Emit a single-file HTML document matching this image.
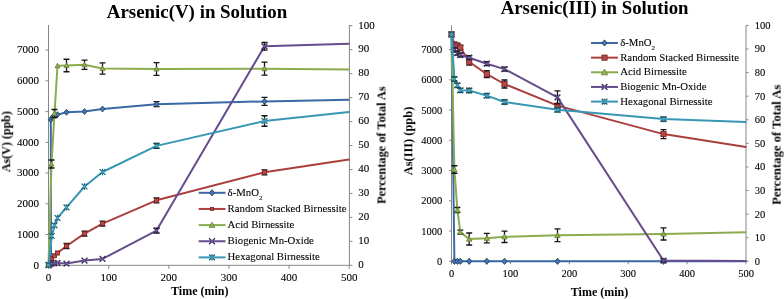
<!DOCTYPE html>
<html><head><meta charset="utf-8"><style>
html,body{margin:0;padding:0;background:#fff;}
svg{display:block;font-family:"Liberation Serif", serif;}
text{fill:#000;will-change:transform;}
text.n{stroke:#000;stroke-width:0.1px;}
</style></head><body>
<svg width="784" height="299" viewBox="0 0 784 299">
<rect width="784" height="299" fill="#fff"/>
<path d="M48.5,25.0 L48.5,265.3 L349.4,265.3 M349.4,25.0 L349.4,265.3" stroke="#868686" stroke-width="1" fill="none"/>
<path d="M45.5,265.30 L48.5,265.30" stroke="#868686" stroke-width="1"/>
<text class="n" x="39" y="268.50" font-size="11" font-weight="normal" text-anchor="end" >0</text>
<path d="M45.5,234.56 L48.5,234.56" stroke="#868686" stroke-width="1"/>
<text class="n" x="39" y="237.76" font-size="11" font-weight="normal" text-anchor="end" >1000</text>
<path d="M45.5,203.81 L48.5,203.81" stroke="#868686" stroke-width="1"/>
<text class="n" x="39" y="207.01" font-size="11" font-weight="normal" text-anchor="end" >2000</text>
<path d="M45.5,173.07 L48.5,173.07" stroke="#868686" stroke-width="1"/>
<text class="n" x="39" y="176.27" font-size="11" font-weight="normal" text-anchor="end" >3000</text>
<path d="M45.5,142.33 L48.5,142.33" stroke="#868686" stroke-width="1"/>
<text class="n" x="39" y="145.53" font-size="11" font-weight="normal" text-anchor="end" >4000</text>
<path d="M45.5,111.59 L48.5,111.59" stroke="#868686" stroke-width="1"/>
<text class="n" x="39" y="114.79" font-size="11" font-weight="normal" text-anchor="end" >5000</text>
<path d="M45.5,80.84 L48.5,80.84" stroke="#868686" stroke-width="1"/>
<text class="n" x="39" y="84.04" font-size="11" font-weight="normal" text-anchor="end" >6000</text>
<path d="M45.5,50.10 L48.5,50.10" stroke="#868686" stroke-width="1"/>
<text class="n" x="39" y="53.30" font-size="11" font-weight="normal" text-anchor="end" >7000</text>
<path d="M349.4,265.30 L352.4,265.30" stroke="#868686" stroke-width="1"/>
<text class="n" x="358.3" y="268.10" font-size="11" font-weight="normal" text-anchor="start" >0</text>
<path d="M349.4,241.34 L352.4,241.34" stroke="#868686" stroke-width="1"/>
<text class="n" x="358.3" y="244.14" font-size="11" font-weight="normal" text-anchor="start" >10</text>
<path d="M349.4,217.38 L352.4,217.38" stroke="#868686" stroke-width="1"/>
<text class="n" x="358.3" y="220.18" font-size="11" font-weight="normal" text-anchor="start" >20</text>
<path d="M349.4,193.42 L352.4,193.42" stroke="#868686" stroke-width="1"/>
<text class="n" x="358.3" y="196.22" font-size="11" font-weight="normal" text-anchor="start" >30</text>
<path d="M349.4,169.46 L352.4,169.46" stroke="#868686" stroke-width="1"/>
<text class="n" x="358.3" y="172.26" font-size="11" font-weight="normal" text-anchor="start" >40</text>
<path d="M349.4,145.50 L352.4,145.50" stroke="#868686" stroke-width="1"/>
<text class="n" x="358.3" y="148.30" font-size="11" font-weight="normal" text-anchor="start" >50</text>
<path d="M349.4,121.54 L352.4,121.54" stroke="#868686" stroke-width="1"/>
<text class="n" x="358.3" y="124.34" font-size="11" font-weight="normal" text-anchor="start" >60</text>
<path d="M349.4,97.58 L352.4,97.58" stroke="#868686" stroke-width="1"/>
<text class="n" x="358.3" y="100.38" font-size="11" font-weight="normal" text-anchor="start" >70</text>
<path d="M349.4,73.62 L352.4,73.62" stroke="#868686" stroke-width="1"/>
<text class="n" x="358.3" y="76.42" font-size="11" font-weight="normal" text-anchor="start" >80</text>
<path d="M349.4,49.66 L352.4,49.66" stroke="#868686" stroke-width="1"/>
<text class="n" x="358.3" y="52.46" font-size="11" font-weight="normal" text-anchor="start" >90</text>
<path d="M349.4,25.70 L352.4,25.70" stroke="#868686" stroke-width="1"/>
<text class="n" x="358.3" y="28.50" font-size="11" font-weight="normal" text-anchor="start" >100</text>
<path d="M48.50,265.3 L48.50,268.8" stroke="#868686" stroke-width="1"/>
<text class="n" x="48.50" y="280.6" font-size="11" font-weight="normal" text-anchor="middle" >0</text>
<path d="M108.65,265.3 L108.65,268.8" stroke="#868686" stroke-width="1"/>
<text class="n" x="108.65" y="280.6" font-size="11" font-weight="normal" text-anchor="middle" >100</text>
<path d="M168.80,265.3 L168.80,268.8" stroke="#868686" stroke-width="1"/>
<text class="n" x="168.80" y="280.6" font-size="11" font-weight="normal" text-anchor="middle" >200</text>
<path d="M228.95,265.3 L228.95,268.8" stroke="#868686" stroke-width="1"/>
<text class="n" x="228.95" y="280.6" font-size="11" font-weight="normal" text-anchor="middle" >300</text>
<path d="M289.10,265.3 L289.10,268.8" stroke="#868686" stroke-width="1"/>
<text class="n" x="289.10" y="280.6" font-size="11" font-weight="normal" text-anchor="middle" >400</text>
<path d="M349.25,265.3 L349.25,268.8" stroke="#868686" stroke-width="1"/>
<text class="n" x="349.25" y="280.6" font-size="11" font-weight="normal" text-anchor="middle" >500</text>
<text x="197.05" y="17.6" font-size="18.9" font-weight="bold" text-anchor="middle" >Arsenic(V) in Solution</text>
<text x="199.8" y="295" font-size="12" font-weight="bold" text-anchor="middle" >Time (min)</text>
<text transform="translate(10.2,141.6) rotate(-90)" font-size="12" font-weight="bold" text-anchor="middle">As(V) (ppb)</text>
<text transform="translate(385.5,145.2) rotate(-90)" font-size="12.35" font-weight="bold" text-anchor="middle">Percentage of Total As</text>
<defs><clipPath id="cl"><rect x="40" y="20" width="309.5" height="250"/></clipPath><clipPath id="cr"><rect x="440" y="20" width="306.5" height="250"/></clipPath></defs>
<g clip-path="url(#cl)">
<polyline points="51.00,265.30 50.80,119.70 52.30,117.30 54.50,116.00 57.50,114.60 66.50,112.30 84.50,111.50 102.50,109.00 156.50,104.20 264.50,101.40 349.00,99.70" fill="none" stroke="#3a69a5" stroke-width="2.0" stroke-linejoin="round" stroke-linecap="round"/>

<path d="M51.00,262.36 L53.47,265.30 L51.00,268.25 L48.53,265.30 Z" fill="#4676b3" stroke="#243f66" stroke-width="0.9"/>

<path d="M50.80,116.76 L53.27,119.70 L50.80,122.64 L48.33,119.70 Z" fill="#4676b3" stroke="#243f66" stroke-width="0.9"/>

<path d="M52.30,114.36 L54.77,117.30 L52.30,120.24 L49.83,117.30 Z" fill="#4676b3" stroke="#243f66" stroke-width="0.9"/>

<path d="M54.50,113.06 L56.97,116.00 L54.50,118.94 L52.03,116.00 Z" fill="#4676b3" stroke="#243f66" stroke-width="0.9"/>

<path d="M57.50,111.66 L59.97,114.60 L57.50,117.54 L55.03,114.60 Z" fill="#4676b3" stroke="#243f66" stroke-width="0.9"/>

<path d="M66.50,109.36 L68.97,112.30 L66.50,115.24 L64.03,112.30 Z" fill="#4676b3" stroke="#243f66" stroke-width="0.9"/>

<path d="M84.50,108.56 L86.97,111.50 L84.50,114.44 L82.03,111.50 Z" fill="#4676b3" stroke="#243f66" stroke-width="0.9"/>

<path d="M102.50,106.06 L104.97,109.00 L102.50,111.94 L100.03,109.00 Z" fill="#4676b3" stroke="#243f66" stroke-width="0.9"/>
<path d="M156.50,101.70 L156.50,106.70 M153.50,101.70 L159.50,101.70 M153.50,106.70 L159.50,106.70" stroke="#151515" stroke-width="1.3" fill="none"/>
<path d="M156.50,101.26 L158.97,104.20 L156.50,107.14 L154.03,104.20 Z" fill="#4676b3" stroke="#243f66" stroke-width="0.9"/>
<path d="M264.50,97.40 L264.50,105.40 M261.50,97.40 L267.50,97.40 M261.50,105.40 L267.50,105.40" stroke="#151515" stroke-width="1.3" fill="none"/>
<path d="M264.50,98.46 L266.97,101.40 L264.50,104.34 L262.03,101.40 Z" fill="#4676b3" stroke="#243f66" stroke-width="0.9"/>
<polyline points="48.50,265.00 51.50,258.60 54.50,255.80 57.50,253.00 66.50,246.00 84.50,233.70 102.50,223.60 156.50,200.30 264.50,172.30 349.00,159.50" fill="none" stroke="#ab3f3d" stroke-width="2.0" stroke-linejoin="round" stroke-linecap="round"/>

<rect x="46.42" y="262.92" width="4.16" height="4.16" fill="#b84745" stroke="#6e2220" stroke-width="0.8"/>

<rect x="49.42" y="256.52" width="4.16" height="4.16" fill="#b84745" stroke="#6e2220" stroke-width="0.8"/>

<rect x="52.42" y="253.72" width="4.16" height="4.16" fill="#b84745" stroke="#6e2220" stroke-width="0.8"/>

<rect x="55.42" y="250.92" width="4.16" height="4.16" fill="#b84745" stroke="#6e2220" stroke-width="0.8"/>
<path d="M66.50,243.50 L66.50,248.50 M63.50,243.50 L69.50,243.50 M63.50,248.50 L69.50,248.50" stroke="#151515" stroke-width="1.3" fill="none"/>
<rect x="64.42" y="243.92" width="4.16" height="4.16" fill="#b84745" stroke="#6e2220" stroke-width="0.8"/>
<path d="M84.50,231.20 L84.50,236.20 M81.50,231.20 L87.50,231.20 M81.50,236.20 L87.50,236.20" stroke="#151515" stroke-width="1.3" fill="none"/>
<rect x="82.42" y="231.62" width="4.16" height="4.16" fill="#b84745" stroke="#6e2220" stroke-width="0.8"/>
<path d="M102.50,221.10 L102.50,226.10 M99.50,221.10 L105.50,221.10 M99.50,226.10 L105.50,226.10" stroke="#151515" stroke-width="1.3" fill="none"/>
<rect x="100.42" y="221.52" width="4.16" height="4.16" fill="#b84745" stroke="#6e2220" stroke-width="0.8"/>
<path d="M156.50,197.80 L156.50,202.80 M153.50,197.80 L159.50,197.80 M153.50,202.80 L159.50,202.80" stroke="#151515" stroke-width="1.3" fill="none"/>
<rect x="154.42" y="198.22" width="4.16" height="4.16" fill="#b84745" stroke="#6e2220" stroke-width="0.8"/>
<path d="M264.50,169.80 L264.50,174.80 M261.50,169.80 L267.50,169.80 M261.50,174.80 L267.50,174.80" stroke="#151515" stroke-width="1.3" fill="none"/>
<rect x="262.42" y="170.22" width="4.16" height="4.16" fill="#b84745" stroke="#6e2220" stroke-width="0.8"/>
<polyline points="48.50,265.00 51.50,164.00 54.50,113.50 57.50,65.80 66.50,65.50 84.50,64.80 102.50,68.50 156.50,69.00 264.50,68.70 349.00,69.40" fill="none" stroke="#8aac4e" stroke-width="2.0" stroke-linejoin="round" stroke-linecap="round"/>

<path d="M48.50,262.44 L51.06,267.05 L45.94,267.05 Z" fill="#92b352" stroke="#5a752c" stroke-width="0.7"/>
<path d="M51.50,160.00 L51.50,168.00 M48.50,160.00 L54.50,160.00 M48.50,168.00 L54.50,168.00" stroke="#151515" stroke-width="1.3" fill="none"/>
<path d="M51.50,161.44 L54.06,166.05 L48.94,166.05 Z" fill="#92b352" stroke="#5a752c" stroke-width="0.7"/>
<path d="M54.50,109.50 L54.50,117.50 M51.50,109.50 L57.50,109.50 M51.50,117.50 L57.50,117.50" stroke="#151515" stroke-width="1.3" fill="none"/>
<path d="M54.50,110.94 L57.06,115.55 L51.94,115.55 Z" fill="#92b352" stroke="#5a752c" stroke-width="0.7"/>

<path d="M57.50,63.24 L60.06,67.85 L54.94,67.85 Z" fill="#92b352" stroke="#5a752c" stroke-width="0.7"/>
<path d="M66.50,59.25 L66.50,71.75 M63.50,59.25 L69.50,59.25 M63.50,71.75 L69.50,71.75" stroke="#151515" stroke-width="1.3" fill="none"/>
<path d="M66.50,62.94 L69.06,67.55 L63.94,67.55 Z" fill="#92b352" stroke="#5a752c" stroke-width="0.7"/>
<path d="M84.50,60.20 L84.50,69.40 M81.50,60.20 L87.50,60.20 M81.50,69.40 L87.50,69.40" stroke="#151515" stroke-width="1.3" fill="none"/>
<path d="M84.50,62.24 L87.06,66.85 L81.94,66.85 Z" fill="#92b352" stroke="#5a752c" stroke-width="0.7"/>
<path d="M102.50,62.90 L102.50,74.10 M99.50,62.90 L105.50,62.90 M99.50,74.10 L105.50,74.10" stroke="#151515" stroke-width="1.3" fill="none"/>
<path d="M102.50,65.94 L105.06,70.55 L99.94,70.55 Z" fill="#92b352" stroke="#5a752c" stroke-width="0.7"/>
<path d="M156.50,62.70 L156.50,75.30 M153.50,62.70 L159.50,62.70 M153.50,75.30 L159.50,75.30" stroke="#151515" stroke-width="1.3" fill="none"/>
<path d="M156.50,66.44 L159.06,71.05 L153.94,71.05 Z" fill="#92b352" stroke="#5a752c" stroke-width="0.7"/>
<path d="M264.50,62.20 L264.50,75.20 M261.50,62.20 L267.50,62.20 M261.50,75.20 L267.50,75.20" stroke="#151515" stroke-width="1.3" fill="none"/>
<path d="M264.50,66.14 L267.06,70.75 L261.94,70.75 Z" fill="#92b352" stroke="#5a752c" stroke-width="0.7"/>
<polyline points="48.50,265.00 51.50,263.50 54.50,263.30 57.50,263.00 66.50,263.60 84.50,260.60 102.50,258.90 156.50,230.60 264.50,46.30 349.00,43.70" fill="none" stroke="#654d8e" stroke-width="2.0" stroke-linejoin="round" stroke-linecap="round"/>

<path d="M45.60,262.10 L51.40,267.90 M51.40,262.10 L45.60,267.90" stroke="#3e2d5a" stroke-width="1.35"/><circle cx="48.50" cy="265.00" r="1.30" fill="#7258a0"/>

<path d="M48.60,260.60 L54.40,266.40 M54.40,260.60 L48.60,266.40" stroke="#3e2d5a" stroke-width="1.35"/><circle cx="51.50" cy="263.50" r="1.30" fill="#7258a0"/>

<path d="M51.60,260.40 L57.40,266.20 M57.40,260.40 L51.60,266.20" stroke="#3e2d5a" stroke-width="1.35"/><circle cx="54.50" cy="263.30" r="1.30" fill="#7258a0"/>

<path d="M54.60,260.10 L60.40,265.90 M60.40,260.10 L54.60,265.90" stroke="#3e2d5a" stroke-width="1.35"/><circle cx="57.50" cy="263.00" r="1.30" fill="#7258a0"/>

<path d="M63.60,260.70 L69.40,266.50 M69.40,260.70 L63.60,266.50" stroke="#3e2d5a" stroke-width="1.35"/><circle cx="66.50" cy="263.60" r="1.30" fill="#7258a0"/>

<path d="M81.60,257.70 L87.40,263.50 M87.40,257.70 L81.60,263.50" stroke="#3e2d5a" stroke-width="1.35"/><circle cx="84.50" cy="260.60" r="1.30" fill="#7258a0"/>

<path d="M99.60,256.00 L105.40,261.80 M105.40,256.00 L99.60,261.80" stroke="#3e2d5a" stroke-width="1.35"/><circle cx="102.50" cy="258.90" r="1.30" fill="#7258a0"/>
<path d="M156.50,228.10 L156.50,233.10 M153.50,228.10 L159.50,228.10 M153.50,233.10 L159.50,233.10" stroke="#151515" stroke-width="1.3" fill="none"/>
<path d="M153.60,227.70 L159.40,233.50 M159.40,227.70 L153.60,233.50" stroke="#3e2d5a" stroke-width="1.35"/><circle cx="156.50" cy="230.60" r="1.30" fill="#7258a0"/>
<path d="M264.50,42.50 L264.50,50.10 M261.50,42.50 L267.50,42.50 M261.50,50.10 L267.50,50.10" stroke="#151515" stroke-width="1.3" fill="none"/>
<path d="M261.60,43.40 L267.40,49.20 M267.40,43.40 L261.60,49.20" stroke="#3e2d5a" stroke-width="1.35"/><circle cx="264.50" cy="46.30" r="1.30" fill="#7258a0"/>
<polyline points="48.50,265.00 51.80,236.00 54.50,225.40 57.50,218.00 66.50,207.40 84.50,186.50 102.50,172.00 156.50,145.90 264.50,121.00 349.00,112.00" fill="none" stroke="#3797b4" stroke-width="2.0" stroke-linejoin="round" stroke-linecap="round"/>

<path d="M45.60,262.10 L51.40,267.90 M51.40,262.10 L45.60,267.90 M48.50,261.81 L48.50,268.19" stroke="#1f6477" stroke-width="1.30"/><circle cx="48.50" cy="265.00" r="1.60" fill="#42a3c0"/>

<path d="M48.90,233.10 L54.70,238.90 M54.70,233.10 L48.90,238.90 M51.80,232.81 L51.80,239.19" stroke="#1f6477" stroke-width="1.30"/><circle cx="51.80" cy="236.00" r="1.60" fill="#42a3c0"/>

<path d="M51.60,222.50 L57.40,228.30 M57.40,222.50 L51.60,228.30 M54.50,222.21 L54.50,228.59" stroke="#1f6477" stroke-width="1.30"/><circle cx="54.50" cy="225.40" r="1.60" fill="#42a3c0"/>

<path d="M54.60,215.10 L60.40,220.90 M60.40,215.10 L54.60,220.90 M57.50,214.81 L57.50,221.19" stroke="#1f6477" stroke-width="1.30"/><circle cx="57.50" cy="218.00" r="1.60" fill="#42a3c0"/>

<path d="M63.60,204.50 L69.40,210.30 M69.40,204.50 L63.60,210.30 M66.50,204.21 L66.50,210.59" stroke="#1f6477" stroke-width="1.30"/><circle cx="66.50" cy="207.40" r="1.60" fill="#42a3c0"/>

<path d="M81.60,183.60 L87.40,189.40 M87.40,183.60 L81.60,189.40 M84.50,183.31 L84.50,189.69" stroke="#1f6477" stroke-width="1.30"/><circle cx="84.50" cy="186.50" r="1.60" fill="#42a3c0"/>

<path d="M99.60,169.10 L105.40,174.90 M105.40,169.10 L99.60,174.90 M102.50,168.81 L102.50,175.19" stroke="#1f6477" stroke-width="1.30"/><circle cx="102.50" cy="172.00" r="1.60" fill="#42a3c0"/>
<path d="M156.50,143.40 L156.50,148.40 M153.50,143.40 L159.50,143.40 M153.50,148.40 L159.50,148.40" stroke="#151515" stroke-width="1.3" fill="none"/>
<path d="M153.60,143.00 L159.40,148.80 M159.40,143.00 L153.60,148.80 M156.50,142.71 L156.50,149.09" stroke="#1f6477" stroke-width="1.30"/><circle cx="156.50" cy="145.90" r="1.60" fill="#42a3c0"/>
<path d="M264.50,115.75 L264.50,126.25 M261.50,115.75 L267.50,115.75 M261.50,126.25 L267.50,126.25" stroke="#151515" stroke-width="1.3" fill="none"/>
<path d="M261.60,118.10 L267.40,123.90 M267.40,118.10 L261.60,123.90 M264.50,117.81 L264.50,124.19" stroke="#1f6477" stroke-width="1.30"/><circle cx="264.50" cy="121.00" r="1.60" fill="#42a3c0"/>
</g>
<path d="M198.7,192.80 L225.5,192.80" stroke="#3a69a5" stroke-width="2.0"/>
<path d="M212.00,189.70 L214.60,192.80 L212.00,195.90 L209.40,192.80 Z" fill="#4676b3" stroke="#243f66" stroke-width="0.9"/>
<text class="n" x="227.6" y="195.80" font-size="10.75" font-weight="normal" text-anchor="start" >δ-MnO<tspan dy="3.8" font-size="7">2</tspan></text>
<path d="M198.7,208.95 L225.5,208.95" stroke="#ab3f3d" stroke-width="2.0"/>
<rect x="210.44" y="207.39" width="3.12" height="3.12" fill="#b84745" stroke="#6e2220" stroke-width="0.8"/>
<text class="n" x="227.6" y="211.95" font-size="10.75" font-weight="normal" text-anchor="start" >Random Stacked Birnessite</text>
<path d="M198.7,225.10 L225.5,225.10" stroke="#8aac4e" stroke-width="2.0"/>
<path d="M212.00,222.22 L214.88,227.40 L209.12,227.40 Z" fill="#92b352" stroke="#5a752c" stroke-width="0.7"/>
<text class="n" x="227.6" y="228.10" font-size="10.75" font-weight="normal" text-anchor="start" >Acid Birnessite</text>
<path d="M198.7,241.25 L225.5,241.25" stroke="#654d8e" stroke-width="2.0"/>
<path d="M209.10,238.35 L214.90,244.15 M214.90,238.35 L209.10,244.15" stroke="#3e2d5a" stroke-width="1.35"/><circle cx="212.00" cy="241.25" r="1.30" fill="#7258a0"/>
<text class="n" x="227.6" y="244.25" font-size="10.75" font-weight="normal" text-anchor="start" >Biogenic Mn-Oxide</text>
<path d="M198.7,257.40 L225.5,257.40" stroke="#3797b4" stroke-width="2.0"/>
<path d="M209.10,254.50 L214.90,260.30 M214.90,254.50 L209.10,260.30 M212.00,254.21 L212.00,260.59" stroke="#1f6477" stroke-width="1.30"/><circle cx="212.00" cy="257.40" r="1.60" fill="#42a3c0"/>
<text class="n" x="227.6" y="260.40" font-size="10.75" font-weight="normal" text-anchor="start" >Hexagonal Birnessite</text>
<path d="M451.5,25.4 L451.5,261.3 L746.0,261.3 M746.0,25.4 L746.0,261.3" stroke="#868686" stroke-width="1" fill="none"/>
<path d="M449.0,261.30 L451.5,261.30" stroke="#868686" stroke-width="1"/>
<text class="n" x="442.2" y="264.90" font-size="10.5" font-weight="normal" text-anchor="end" >0</text>
<path d="M449.0,231.05 L451.5,231.05" stroke="#868686" stroke-width="1"/>
<text class="n" x="442.2" y="234.65" font-size="10.5" font-weight="normal" text-anchor="end" >1000</text>
<path d="M449.0,200.80 L451.5,200.80" stroke="#868686" stroke-width="1"/>
<text class="n" x="442.2" y="204.40" font-size="10.5" font-weight="normal" text-anchor="end" >2000</text>
<path d="M449.0,170.55 L451.5,170.55" stroke="#868686" stroke-width="1"/>
<text class="n" x="442.2" y="174.15" font-size="10.5" font-weight="normal" text-anchor="end" >3000</text>
<path d="M449.0,140.30 L451.5,140.30" stroke="#868686" stroke-width="1"/>
<text class="n" x="442.2" y="143.90" font-size="10.5" font-weight="normal" text-anchor="end" >4000</text>
<path d="M449.0,110.05 L451.5,110.05" stroke="#868686" stroke-width="1"/>
<text class="n" x="442.2" y="113.65" font-size="10.5" font-weight="normal" text-anchor="end" >5000</text>
<path d="M449.0,79.80 L451.5,79.80" stroke="#868686" stroke-width="1"/>
<text class="n" x="442.2" y="83.40" font-size="10.5" font-weight="normal" text-anchor="end" >6000</text>
<path d="M449.0,49.55 L451.5,49.55" stroke="#868686" stroke-width="1"/>
<text class="n" x="442.2" y="53.15" font-size="10.5" font-weight="normal" text-anchor="end" >7000</text>
<path d="M746.0,261.30 L748.5,261.30" stroke="#868686" stroke-width="1"/>
<text class="n" x="754.8" y="264.70" font-size="10.5" font-weight="normal" text-anchor="start" >0</text>
<path d="M746.0,237.71 L748.5,237.71" stroke="#868686" stroke-width="1"/>
<text class="n" x="754.8" y="241.11" font-size="10.5" font-weight="normal" text-anchor="start" >10</text>
<path d="M746.0,214.12 L748.5,214.12" stroke="#868686" stroke-width="1"/>
<text class="n" x="754.8" y="217.52" font-size="10.5" font-weight="normal" text-anchor="start" >20</text>
<path d="M746.0,190.53 L748.5,190.53" stroke="#868686" stroke-width="1"/>
<text class="n" x="754.8" y="193.93" font-size="10.5" font-weight="normal" text-anchor="start" >30</text>
<path d="M746.0,166.94 L748.5,166.94" stroke="#868686" stroke-width="1"/>
<text class="n" x="754.8" y="170.34" font-size="10.5" font-weight="normal" text-anchor="start" >40</text>
<path d="M746.0,143.35 L748.5,143.35" stroke="#868686" stroke-width="1"/>
<text class="n" x="754.8" y="146.75" font-size="10.5" font-weight="normal" text-anchor="start" >50</text>
<path d="M746.0,119.76 L748.5,119.76" stroke="#868686" stroke-width="1"/>
<text class="n" x="754.8" y="123.16" font-size="10.5" font-weight="normal" text-anchor="start" >60</text>
<path d="M746.0,96.17 L748.5,96.17" stroke="#868686" stroke-width="1"/>
<text class="n" x="754.8" y="99.57" font-size="10.5" font-weight="normal" text-anchor="start" >70</text>
<path d="M746.0,72.58 L748.5,72.58" stroke="#868686" stroke-width="1"/>
<text class="n" x="754.8" y="75.98" font-size="10.5" font-weight="normal" text-anchor="start" >80</text>
<path d="M746.0,48.99 L748.5,48.99" stroke="#868686" stroke-width="1"/>
<text class="n" x="754.8" y="52.39" font-size="10.5" font-weight="normal" text-anchor="start" >90</text>
<path d="M746.0,25.40 L748.5,25.40" stroke="#868686" stroke-width="1"/>
<text class="n" x="754.8" y="28.80" font-size="10.5" font-weight="normal" text-anchor="start" >100</text>
<path d="M451.50,261.3 L451.50,264.3" stroke="#868686" stroke-width="1"/>
<text class="n" x="451.50" y="277.1" font-size="10.5" font-weight="normal" text-anchor="middle" >0</text>
<path d="M510.40,261.3 L510.40,264.3" stroke="#868686" stroke-width="1"/>
<text class="n" x="510.40" y="277.1" font-size="10.5" font-weight="normal" text-anchor="middle" >100</text>
<path d="M569.30,261.3 L569.30,264.3" stroke="#868686" stroke-width="1"/>
<text class="n" x="569.30" y="277.1" font-size="10.5" font-weight="normal" text-anchor="middle" >200</text>
<path d="M628.20,261.3 L628.20,264.3" stroke="#868686" stroke-width="1"/>
<text class="n" x="628.20" y="277.1" font-size="10.5" font-weight="normal" text-anchor="middle" >300</text>
<path d="M687.10,261.3 L687.10,264.3" stroke="#868686" stroke-width="1"/>
<text class="n" x="687.10" y="277.1" font-size="10.5" font-weight="normal" text-anchor="middle" >400</text>
<path d="M746.00,261.3 L746.00,264.3" stroke="#868686" stroke-width="1"/>
<text class="n" x="746.00" y="277.1" font-size="10.5" font-weight="normal" text-anchor="middle" >500</text>
<text x="594.6" y="13.8" font-size="18.8" font-weight="bold" text-anchor="middle" >Arsenic(III) in Solution</text>
<text x="599.5" y="295.5" font-size="12" font-weight="bold" text-anchor="middle" >Time (min)</text>
<text transform="translate(412.3,141) rotate(-90)" font-size="12.4" font-weight="bold" text-anchor="middle">As(III) (ppb)</text>
<text transform="translate(780.6,144.8) rotate(-90)" font-size="12.65" font-weight="bold" text-anchor="middle">Percentage of Total As</text>
<g clip-path="url(#cr)">
<polyline points="451.50,34.40 454.40,261.30 457.40,261.30 460.30,261.30 469.20,261.30 486.80,261.30 504.50,261.30 557.50,261.30 663.50,261.30 746.00,261.30" fill="none" stroke="#3a69a5" stroke-width="2.0" stroke-linejoin="round" stroke-linecap="round"/>

<path d="M451.50,31.30 L454.10,34.40 L451.50,37.50 L448.90,34.40 Z" fill="#4676b3" stroke="#243f66" stroke-width="0.9"/>

<path d="M454.40,258.20 L457.00,261.30 L454.40,264.40 L451.80,261.30 Z" fill="#4676b3" stroke="#243f66" stroke-width="0.9"/>

<path d="M457.40,258.20 L460.00,261.30 L457.40,264.40 L454.80,261.30 Z" fill="#4676b3" stroke="#243f66" stroke-width="0.9"/>

<path d="M460.30,258.20 L462.90,261.30 L460.30,264.40 L457.70,261.30 Z" fill="#4676b3" stroke="#243f66" stroke-width="0.9"/>

<path d="M469.20,258.20 L471.80,261.30 L469.20,264.40 L466.60,261.30 Z" fill="#4676b3" stroke="#243f66" stroke-width="0.9"/>

<path d="M486.80,258.20 L489.40,261.30 L486.80,264.40 L484.20,261.30 Z" fill="#4676b3" stroke="#243f66" stroke-width="0.9"/>

<path d="M504.50,258.20 L507.10,261.30 L504.50,264.40 L501.90,261.30 Z" fill="#4676b3" stroke="#243f66" stroke-width="0.9"/>

<path d="M557.50,258.20 L560.10,261.30 L557.50,264.40 L554.90,261.30 Z" fill="#4676b3" stroke="#243f66" stroke-width="0.9"/>

<path d="M663.50,258.20 L666.10,261.30 L663.50,264.40 L660.90,261.30 Z" fill="#4676b3" stroke="#243f66" stroke-width="0.9"/>
<polyline points="451.50,34.40 454.40,44.50 457.40,45.50 460.30,47.50 469.20,61.70 486.80,74.20 504.50,84.00 557.50,105.60 663.50,134.10 746.00,147.00" fill="none" stroke="#ab3f3d" stroke-width="2.0" stroke-linejoin="round" stroke-linecap="round"/>

<rect x="448.90" y="31.80" width="5.20" height="5.20" fill="#b84745" stroke="#6e2220" stroke-width="0.8"/>
<path d="M454.40,42.50 L454.40,46.50 M451.40,42.50 L457.40,42.50 M451.40,46.50 L457.40,46.50" stroke="#151515" stroke-width="1.3" fill="none"/>
<rect x="451.80" y="41.90" width="5.20" height="5.20" fill="#b84745" stroke="#6e2220" stroke-width="0.8"/>
<path d="M457.40,43.50 L457.40,47.50 M454.40,43.50 L460.40,43.50 M454.40,47.50 L460.40,47.50" stroke="#151515" stroke-width="1.3" fill="none"/>
<rect x="454.80" y="42.90" width="5.20" height="5.20" fill="#b84745" stroke="#6e2220" stroke-width="0.8"/>
<path d="M460.30,45.50 L460.30,49.50 M457.30,45.50 L463.30,45.50 M457.30,49.50 L463.30,49.50" stroke="#151515" stroke-width="1.3" fill="none"/>
<rect x="457.70" y="44.90" width="5.20" height="5.20" fill="#b84745" stroke="#6e2220" stroke-width="0.8"/>
<path d="M469.20,58.20 L469.20,65.20 M466.20,58.20 L472.20,58.20 M466.20,65.20 L472.20,65.20" stroke="#151515" stroke-width="1.3" fill="none"/>
<rect x="466.60" y="59.10" width="5.20" height="5.20" fill="#b84745" stroke="#6e2220" stroke-width="0.8"/>
<path d="M486.80,70.70 L486.80,77.70 M483.80,70.70 L489.80,70.70 M483.80,77.70 L489.80,77.70" stroke="#151515" stroke-width="1.3" fill="none"/>
<rect x="484.20" y="71.60" width="5.20" height="5.20" fill="#b84745" stroke="#6e2220" stroke-width="0.8"/>
<path d="M504.50,80.00 L504.50,88.00 M501.50,80.00 L507.50,80.00 M501.50,88.00 L507.50,88.00" stroke="#151515" stroke-width="1.3" fill="none"/>
<rect x="501.90" y="81.40" width="5.20" height="5.20" fill="#b84745" stroke="#6e2220" stroke-width="0.8"/>
<path d="M557.50,103.60 L557.50,107.60 M554.50,103.60 L560.50,103.60 M554.50,107.60 L560.50,107.60" stroke="#151515" stroke-width="1.3" fill="none"/>
<rect x="554.90" y="103.00" width="5.20" height="5.20" fill="#b84745" stroke="#6e2220" stroke-width="0.8"/>
<path d="M663.50,129.60 L663.50,138.60 M660.50,129.60 L666.50,129.60 M660.50,138.60 L666.50,138.60" stroke="#151515" stroke-width="1.3" fill="none"/>
<rect x="660.90" y="131.50" width="5.20" height="5.20" fill="#b84745" stroke="#6e2220" stroke-width="0.8"/>
<polyline points="451.50,34.40 454.40,169.50 457.40,210.00 460.30,232.10 469.20,239.00 486.80,238.20 504.50,236.80 557.50,235.30 663.50,233.90 746.00,232.20" fill="none" stroke="#8aac4e" stroke-width="2.0" stroke-linejoin="round" stroke-linecap="round"/>

<path d="M451.50,31.68 L454.22,36.58 L448.78,36.58 Z" fill="#92b352" stroke="#5a752c" stroke-width="0.7"/>
<path d="M454.40,165.75 L454.40,173.25 M451.40,165.75 L457.40,165.75 M451.40,173.25 L457.40,173.25" stroke="#151515" stroke-width="1.3" fill="none"/>
<path d="M454.40,166.78 L457.12,171.68 L451.68,171.68 Z" fill="#92b352" stroke="#5a752c" stroke-width="0.7"/>
<path d="M457.40,207.50 L457.40,212.50 M454.40,207.50 L460.40,207.50 M454.40,212.50 L460.40,212.50" stroke="#151515" stroke-width="1.3" fill="none"/>
<path d="M457.40,207.28 L460.12,212.18 L454.68,212.18 Z" fill="#92b352" stroke="#5a752c" stroke-width="0.7"/>
<path d="M460.30,230.10 L460.30,234.10 M457.30,230.10 L463.30,230.10 M457.30,234.10 L463.30,234.10" stroke="#151515" stroke-width="1.3" fill="none"/>
<path d="M460.30,229.38 L463.02,234.28 L457.58,234.28 Z" fill="#92b352" stroke="#5a752c" stroke-width="0.7"/>
<path d="M469.20,233.00 L469.20,245.00 M466.20,233.00 L472.20,233.00 M466.20,245.00 L472.20,245.00" stroke="#151515" stroke-width="1.3" fill="none"/>
<path d="M469.20,236.28 L471.92,241.18 L466.48,241.18 Z" fill="#92b352" stroke="#5a752c" stroke-width="0.7"/>
<path d="M486.80,233.45 L486.80,242.95 M483.80,233.45 L489.80,233.45 M483.80,242.95 L489.80,242.95" stroke="#151515" stroke-width="1.3" fill="none"/>
<path d="M486.80,235.48 L489.52,240.38 L484.08,240.38 Z" fill="#92b352" stroke="#5a752c" stroke-width="0.7"/>
<path d="M504.50,231.10 L504.50,242.50 M501.50,231.10 L507.50,231.10 M501.50,242.50 L507.50,242.50" stroke="#151515" stroke-width="1.3" fill="none"/>
<path d="M504.50,234.08 L507.22,238.98 L501.78,238.98 Z" fill="#92b352" stroke="#5a752c" stroke-width="0.7"/>
<path d="M557.50,228.90 L557.50,241.70 M554.50,228.90 L560.50,228.90 M554.50,241.70 L560.50,241.70" stroke="#151515" stroke-width="1.3" fill="none"/>
<path d="M557.50,232.58 L560.22,237.48 L554.78,237.48 Z" fill="#92b352" stroke="#5a752c" stroke-width="0.7"/>
<path d="M663.50,227.80 L663.50,240.00 M660.50,227.80 L666.50,227.80 M660.50,240.00 L666.50,240.00" stroke="#151515" stroke-width="1.3" fill="none"/>
<path d="M663.50,231.18 L666.22,236.08 L660.78,236.08 Z" fill="#92b352" stroke="#5a752c" stroke-width="0.7"/>
<polyline points="451.50,34.40 454.40,50.00 457.40,53.00 460.30,55.00 469.20,57.70 486.80,63.70 504.50,69.10 557.50,97.40 663.50,260.60 746.00,261.10" fill="none" stroke="#654d8e" stroke-width="2.0" stroke-linejoin="round" stroke-linecap="round"/>

<path d="M448.60,31.50 L454.40,37.30 M454.40,31.50 L448.60,37.30" stroke="#3e2d5a" stroke-width="1.35"/><circle cx="451.50" cy="34.40" r="1.30" fill="#7258a0"/>
<path d="M454.40,48.00 L454.40,52.00 M451.40,48.00 L457.40,48.00 M451.40,52.00 L457.40,52.00" stroke="#151515" stroke-width="1.3" fill="none"/>
<path d="M451.50,47.10 L457.30,52.90 M457.30,47.10 L451.50,52.90" stroke="#3e2d5a" stroke-width="1.35"/><circle cx="454.40" cy="50.00" r="1.30" fill="#7258a0"/>
<path d="M457.40,51.00 L457.40,55.00 M454.40,51.00 L460.40,51.00 M454.40,55.00 L460.40,55.00" stroke="#151515" stroke-width="1.3" fill="none"/>
<path d="M454.50,50.10 L460.30,55.90 M460.30,50.10 L454.50,55.90" stroke="#3e2d5a" stroke-width="1.35"/><circle cx="457.40" cy="53.00" r="1.30" fill="#7258a0"/>
<path d="M460.30,53.00 L460.30,57.00 M457.30,53.00 L463.30,53.00 M457.30,57.00 L463.30,57.00" stroke="#151515" stroke-width="1.3" fill="none"/>
<path d="M457.40,52.10 L463.20,57.90 M463.20,52.10 L457.40,57.90" stroke="#3e2d5a" stroke-width="1.35"/><circle cx="460.30" cy="55.00" r="1.30" fill="#7258a0"/>
<path d="M469.20,55.70 L469.20,59.70 M466.20,55.70 L472.20,55.70 M466.20,59.70 L472.20,59.70" stroke="#151515" stroke-width="1.3" fill="none"/>
<path d="M466.30,54.80 L472.10,60.60 M472.10,54.80 L466.30,60.60" stroke="#3e2d5a" stroke-width="1.35"/><circle cx="469.20" cy="57.70" r="1.30" fill="#7258a0"/>
<path d="M486.80,61.70 L486.80,65.70 M483.80,61.70 L489.80,61.70 M483.80,65.70 L489.80,65.70" stroke="#151515" stroke-width="1.3" fill="none"/>
<path d="M483.90,60.80 L489.70,66.60 M489.70,60.80 L483.90,66.60" stroke="#3e2d5a" stroke-width="1.35"/><circle cx="486.80" cy="63.70" r="1.30" fill="#7258a0"/>
<path d="M504.50,67.10 L504.50,71.10 M501.50,67.10 L507.50,67.10 M501.50,71.10 L507.50,71.10" stroke="#151515" stroke-width="1.3" fill="none"/>
<path d="M501.60,66.20 L507.40,72.00 M507.40,66.20 L501.60,72.00" stroke="#3e2d5a" stroke-width="1.35"/><circle cx="504.50" cy="69.10" r="1.30" fill="#7258a0"/>
<path d="M557.50,90.90 L557.50,103.90 M554.50,90.90 L560.50,90.90 M554.50,103.90 L560.50,103.90" stroke="#151515" stroke-width="1.3" fill="none"/>
<path d="M554.60,94.50 L560.40,100.30 M560.40,94.50 L554.60,100.30" stroke="#3e2d5a" stroke-width="1.35"/><circle cx="557.50" cy="97.40" r="1.30" fill="#7258a0"/>
<path d="M663.50,259.10 L663.50,262.10 M660.50,259.10 L666.50,259.10 M660.50,262.10 L666.50,262.10" stroke="#151515" stroke-width="1.3" fill="none"/>
<path d="M660.60,257.70 L666.40,263.50 M666.40,257.70 L660.60,263.50" stroke="#3e2d5a" stroke-width="1.35"/><circle cx="663.50" cy="260.60" r="1.30" fill="#7258a0"/>
<polyline points="451.50,34.40 454.40,79.00 457.40,85.40 460.30,90.30 469.20,90.50 486.80,95.60 504.50,102.00 557.50,109.80 663.50,119.10 746.00,122.00" fill="none" stroke="#3797b4" stroke-width="2.0" stroke-linejoin="round" stroke-linecap="round"/>

<path d="M448.60,31.50 L454.40,37.30 M454.40,31.50 L448.60,37.30 M451.50,31.21 L451.50,37.59" stroke="#1f6477" stroke-width="1.30"/><circle cx="451.50" cy="34.40" r="1.60" fill="#42a3c0"/>
<path d="M454.40,77.00 L454.40,81.00 M451.40,77.00 L457.40,77.00 M451.40,81.00 L457.40,81.00" stroke="#151515" stroke-width="1.3" fill="none"/>
<path d="M451.50,76.10 L457.30,81.90 M457.30,76.10 L451.50,81.90 M454.40,75.81 L454.40,82.19" stroke="#1f6477" stroke-width="1.30"/><circle cx="454.40" cy="79.00" r="1.60" fill="#42a3c0"/>
<path d="M457.40,83.40 L457.40,87.40 M454.40,83.40 L460.40,83.40 M454.40,87.40 L460.40,87.40" stroke="#151515" stroke-width="1.3" fill="none"/>
<path d="M454.50,82.50 L460.30,88.30 M460.30,82.50 L454.50,88.30 M457.40,82.21 L457.40,88.59" stroke="#1f6477" stroke-width="1.30"/><circle cx="457.40" cy="85.40" r="1.60" fill="#42a3c0"/>
<path d="M460.30,88.30 L460.30,92.30 M457.30,88.30 L463.30,88.30 M457.30,92.30 L463.30,92.30" stroke="#151515" stroke-width="1.3" fill="none"/>
<path d="M457.40,87.40 L463.20,93.20 M463.20,87.40 L457.40,93.20 M460.30,87.11 L460.30,93.49" stroke="#1f6477" stroke-width="1.30"/><circle cx="460.30" cy="90.30" r="1.60" fill="#42a3c0"/>
<path d="M469.20,88.50 L469.20,92.50 M466.20,88.50 L472.20,88.50 M466.20,92.50 L472.20,92.50" stroke="#151515" stroke-width="1.3" fill="none"/>
<path d="M466.30,87.60 L472.10,93.40 M472.10,87.60 L466.30,93.40 M469.20,87.31 L469.20,93.69" stroke="#1f6477" stroke-width="1.30"/><circle cx="469.20" cy="90.50" r="1.60" fill="#42a3c0"/>
<path d="M486.80,93.60 L486.80,97.60 M483.80,93.60 L489.80,93.60 M483.80,97.60 L489.80,97.60" stroke="#151515" stroke-width="1.3" fill="none"/>
<path d="M483.90,92.70 L489.70,98.50 M489.70,92.70 L483.90,98.50 M486.80,92.41 L486.80,98.79" stroke="#1f6477" stroke-width="1.30"/><circle cx="486.80" cy="95.60" r="1.60" fill="#42a3c0"/>
<path d="M504.50,100.00 L504.50,104.00 M501.50,100.00 L507.50,100.00 M501.50,104.00 L507.50,104.00" stroke="#151515" stroke-width="1.3" fill="none"/>
<path d="M501.60,99.10 L507.40,104.90 M507.40,99.10 L501.60,104.90 M504.50,98.81 L504.50,105.19" stroke="#1f6477" stroke-width="1.30"/><circle cx="504.50" cy="102.00" r="1.60" fill="#42a3c0"/>
<path d="M557.50,107.80 L557.50,111.80 M554.50,107.80 L560.50,107.80 M554.50,111.80 L560.50,111.80" stroke="#151515" stroke-width="1.3" fill="none"/>
<path d="M554.60,106.90 L560.40,112.70 M560.40,106.90 L554.60,112.70 M557.50,106.61 L557.50,112.99" stroke="#1f6477" stroke-width="1.30"/><circle cx="557.50" cy="109.80" r="1.60" fill="#42a3c0"/>
<path d="M663.50,117.10 L663.50,121.10 M660.50,117.10 L666.50,117.10 M660.50,121.10 L666.50,121.10" stroke="#151515" stroke-width="1.3" fill="none"/>
<path d="M660.60,116.20 L666.40,122.00 M666.40,116.20 L660.60,122.00 M663.50,115.91 L663.50,122.29" stroke="#1f6477" stroke-width="1.30"/><circle cx="663.50" cy="119.10" r="1.60" fill="#42a3c0"/>
</g>
<path d="M591,43.00 L618,43.00" stroke="#3a69a5" stroke-width="2.0"/>
<path d="M604.50,39.90 L607.10,43.00 L604.50,46.10 L601.90,43.00 Z" fill="#4676b3" stroke="#243f66" stroke-width="0.9"/>
<text class="n" x="620.2" y="46.00" font-size="10.75" font-weight="normal" text-anchor="start" >δ-MnO<tspan dy="3.8" font-size="7">2</tspan></text>
<path d="M591,57.65 L618,57.65" stroke="#ab3f3d" stroke-width="2.0"/>
<rect x="601.90" y="55.05" width="5.20" height="5.20" fill="#b84745" stroke="#6e2220" stroke-width="0.8"/>
<text class="n" x="620.2" y="60.65" font-size="10.75" font-weight="normal" text-anchor="start" >Random Stacked Birnessite</text>
<path d="M591,72.30 L618,72.30" stroke="#8aac4e" stroke-width="2.0"/>
<path d="M604.50,69.10 L607.70,74.86 L601.30,74.86 Z" fill="#92b352" stroke="#5a752c" stroke-width="0.7"/>
<text class="n" x="620.2" y="75.30" font-size="10.75" font-weight="normal" text-anchor="start" >Acid Birnessite</text>
<path d="M591,86.95 L618,86.95" stroke="#654d8e" stroke-width="2.0"/>
<path d="M601.60,84.05 L607.40,89.85 M607.40,84.05 L601.60,89.85" stroke="#3e2d5a" stroke-width="1.35"/><circle cx="604.50" cy="86.95" r="1.30" fill="#7258a0"/>
<text class="n" x="620.2" y="89.95" font-size="10.75" font-weight="normal" text-anchor="start" >Biogenic Mn-Oxide</text>
<path d="M591,101.60 L618,101.60" stroke="#3797b4" stroke-width="2.0"/>
<path d="M601.60,98.70 L607.40,104.50 M607.40,98.70 L601.60,104.50 M604.50,98.41 L604.50,104.79" stroke="#1f6477" stroke-width="1.30"/><circle cx="604.50" cy="101.60" r="1.60" fill="#42a3c0"/>
<text class="n" x="620.2" y="104.60" font-size="10.75" font-weight="normal" text-anchor="start" >Hexagonal Birnessite</text>
</svg>
</body></html>
